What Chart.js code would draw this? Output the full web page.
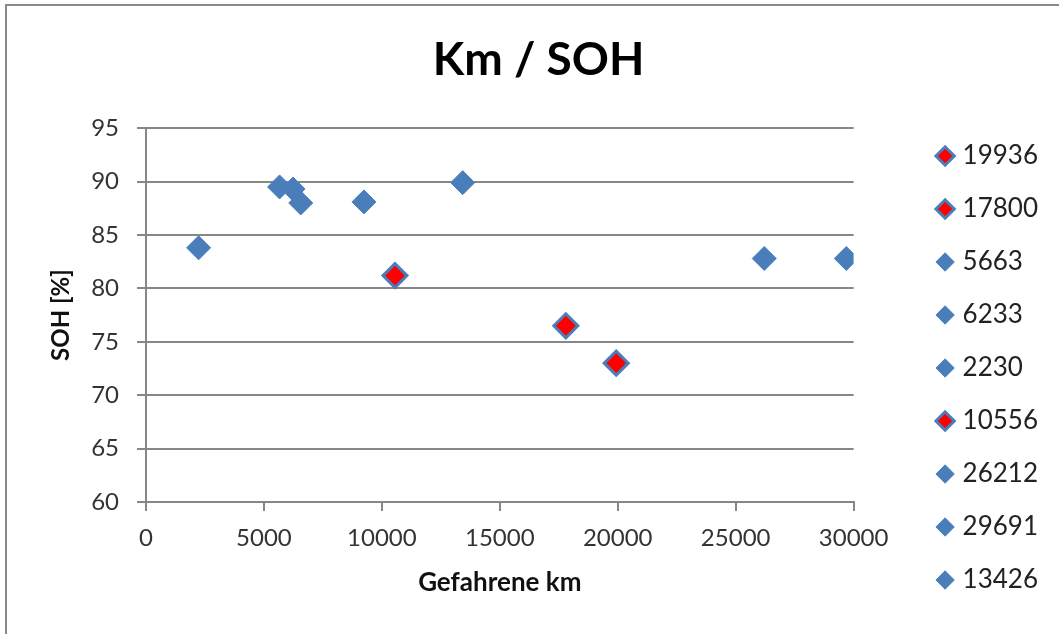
<!DOCTYPE html>
<html>
<head>
<meta charset="utf-8">
<script src="https://cdn.jsdelivr.net/npm/chart.js@4/dist/chart.umd.min.js"></script>
<style>
  html, body { margin: 0; padding: 0; background: #fff; overflow: hidden; }
  #frame {
    position: absolute; left: 5px; top: 4px;
    width: 1100px; height: 700px;
    border: 2px solid #8a8a8a;
  }
  #wrap { position: absolute; left: 0; top: 0; width: 1052px; height: 628px; }
</style>
</head>
<body>
<div id="frame"><div id="wrap"><canvas id="myChart"></canvas></div></div>
<script>
// series names as shown in the legend (empty = not listed in the legend)
const names = ['19936', '17800', '5663', '6233', '2230', '10556', '26212', '29691', '13426', '', ''];
const km    = [19936, 17800, 5663, 6233, 2230, 10556, 26212, 29691, 13426, 6560, 9240];
const soh   = [73.0, 76.5, 89.5, 89.3, 83.8, 81.2, 82.8, 82.8, 89.9, 88.0, 88.1];
const marked = [true, true, false, false, false, true, false, false, false, false, false];

const blue = '#4a7ebb';
const red = '#ff0000';
const grey = '#878787';

const datasets = names.map(function(n, i) {
    return {
        label: n,
        data: [{ x: km[i], y: soh[i] }],
        pointStyle: 'rectRot',
        pointRadius: 12,
        pointHoverRadius: 12,
        backgroundColor: marked[i] ? red : blue,
        borderColor: blue,
        borderWidth: marked[i] ? 3 : 1
    };
});

const ctx = document.getElementById('myChart').getContext('2d');
const myChart = new Chart(ctx, {
    type: 'scatter',
    data: { datasets: datasets },
    options: {
        responsive: true,
        maintainAspectRatio: false,
        animation: false,
        layout: { padding: { left: 22, right: 11, top: 10, bottom: 14 } },
        plugins: {
            title: {
                display: true,
                text: 'Km / SOH',
                color: '#000',
                font: { family: 'Lato', size: 46, weight: 'bold' },
                padding: { top: 17, bottom: 40 }
            },
            legend: {
                position: 'right',
                align: 'end',
                labels: {
                    usePointStyle: true,
                    pointStyle: 'rectRot',
                    boxWidth: 9,
                    boxHeight: 13,
                    padding: 27,
                    color: '#222',
                    font: { family: 'Lato', size: 26 },
                    filter: function(item) { return item.text !== ''; }
                }
            },
            tooltip: { displayColors: false }
        },
        scales: {
            x: {
                type: 'linear',
                min: 0,
                max: 30000,
                afterFit: function(scale) { scale.height = 118; },
                ticks: {
                    stepSize: 5000,
                    color: '#333',
                    font: { family: 'Lato', size: 24 },
                    maxRotation: 0,
                    padding: 13,
                    callback: function(v) { return String(v); }
                },
                grid: {
                    drawOnChartArea: false,
                    drawTicks: true,
                    tickLength: 9,
                    color: grey,
                    lineWidth: 2
                },
                border: { color: grey, width: 2 },
                title: {
                    display: true,
                    text: 'Gefahrene km',
                    color: '#111',
                    font: { family: 'Lato', size: 26, weight: 'bold' },
                    padding: { top: 0, bottom: 22 }
                }
            },
            y: {
                min: 60,
                max: 95,
                afterFit: function(scale) { scale.width = 117; },
                ticks: {
                    stepSize: 5,
                    color: '#333',
                    font: { family: 'Lato', size: 24 },
                    padding: 18
                },
                grid: {
                    color: grey,
                    lineWidth: 2,
                    tickLength: 9
                },
                border: { color: grey, width: 2 },
                title: {
                    display: true,
                    text: 'SOH [%]',
                    color: '#111',
                    font: { family: 'Lato', size: 24, weight: 'bold' },
                    padding: { top: 18, bottom: 0 }
                }
            },
            // empty spacer between plot area and legend
            gap: {
                position: 'right',
                min: 0,
                max: 1,
                afterFit: function(scale) { scale.width = 60; },
                ticks: { display: false },
                grid: { display: false },
                border: { display: false }
            }
        }
    }
});
</script>
</body>
</html>
